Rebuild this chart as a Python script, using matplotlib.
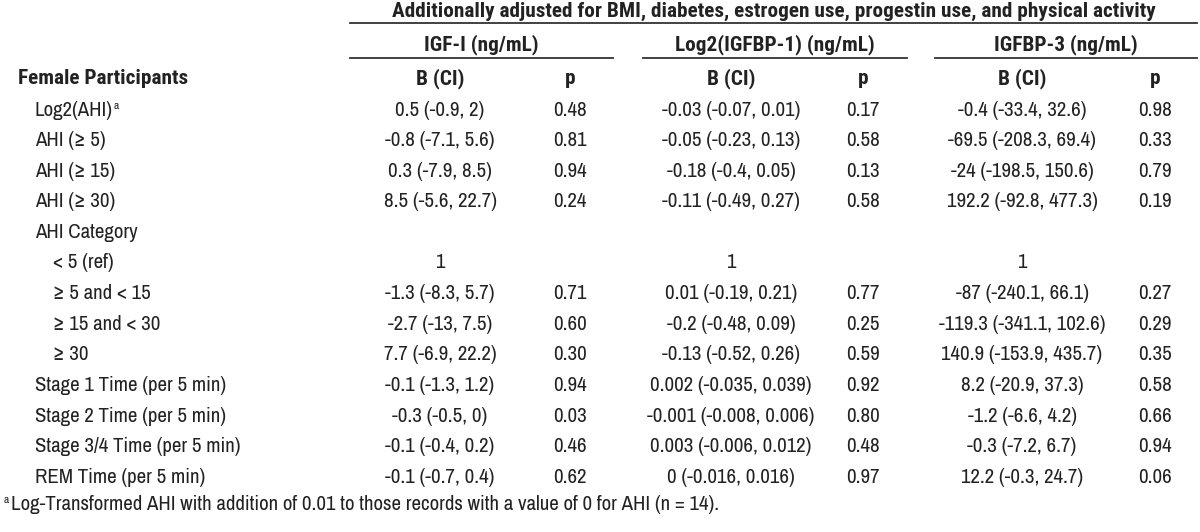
import matplotlib
matplotlib.use("Agg")
import matplotlib.pyplot as plt
from matplotlib import font_manager

# ==================================================
# Table data
# ==================================================
title = "Additionally adjusted for BMI, diabetes, estrogen use, progestin use, and physical activity"
groups = ["IGF-I (ng/mL)", "Log2(IGFBP-1) (ng/mL)", "IGFBP-3 (ng/mL)"]
section = "Female Participants"

row_labels = [
    "Log2(AHI)", "AHI (≥ 5)", "AHI (≥ 15)", "AHI (≥ 30)", "AHI Category",
    "< 5 (ref)", "≥ 5 and < 15", "≥ 15 and < 30", "≥ 30",
    "Stage 1 Time (per 5 min)", "Stage 2 Time (per 5 min)",
    "Stage 3/4 Time (per 5 min)", "REM Time (per 5 min)",
]
row_indent = [0, 0, 0, 0, 0, 1, 1, 1, 1, 0, 0, 0, 0]

igf_b = ["0.5 (-0.9, 2)", "-0.8 (-7.1, 5.6)", "0.3 (-7.9, 8.5)", "8.5 (-5.6, 22.7)", "",
         "1", "-1.3 (-8.3, 5.7)", "-2.7 (-13, 7.5)", "7.7 (-6.9, 22.2)",
         "-0.1 (-1.3, 1.2)", "-0.3 (-0.5, 0)", "-0.1 (-0.4, 0.2)", "-0.1 (-0.7, 0.4)"]
igf_p = ["0.48", "0.81", "0.94", "0.24", "", "", "0.71", "0.60", "0.30",
         "0.94", "0.03", "0.46", "0.62"]

bp1_b = ["-0.03 (-0.07, 0.01)", "-0.05 (-0.23, 0.13)", "-0.18 (-0.4, 0.05)", "-0.11 (-0.49, 0.27)", "",
         "1", "0.01 (-0.19, 0.21)", "-0.2 (-0.48, 0.09)", "-0.13 (-0.52, 0.26)",
         "0.002 (-0.035, 0.039)", "-0.001 (-0.008, 0.006)", "0.003 (-0.006, 0.012)", "0 (-0.016, 0.016)"]
bp1_p = ["0.17", "0.58", "0.13", "0.58", "", "", "0.77", "0.25", "0.59",
         "0.92", "0.80", "0.48", "0.97"]

bp3_b = ["-0.4 (-33.4, 32.6)", "-69.5 (-208.3, 69.4)", "-24 (-198.5, 150.6)", "192.2 (-92.8, 477.3)", "",
         "1", "-87 (-240.1, 66.1)", "-119.3 (-341.1, 102.6)", "140.9 (-153.9, 435.7)",
         "8.2 (-20.9, 37.3)", "-1.2 (-6.6, 4.2)", "-0.3 (-7.2, 6.7)", "12.2 (-0.3, 24.7)"]
bp3_p = ["0.98", "0.33", "0.79", "0.19", "", "", "0.27", "0.29", "0.35",
         "0.58", "0.66", "0.94", "0.06"]

footnote = "Log-Transformed AHI with addition of 0.01 to those records with a value of 0 for AHI (n = 14)."

# ==================================================
# Fonts: narrow grotesque if installed, else Liberation Sans
# ==================================================
fonts = font_manager.fontManager.ttflist
regular_names = {f.name for f in fonts}
bold_names = {f.name for f in fonts if isinstance(f.weight, int) and f.weight >= 600
              or f.weight in ("bold", "semibold", "demibold", "heavy", "black")}

# (family, size for regular text, size for bold text)
candidates = [("Liberation Sans Narrow", 15, 15), ("Arial Narrow", 15, 15),
              ("Archivo Narrow", 15, 15), ("Roboto Condensed", 14.5, 15.3),
              ("PT Sans Narrow", 15.5, 15.5), ("Fira Sans Condensed", 13.5, 13.5)]

REG, FS = "Liberation Sans", 12.5
for name, size, _ in candidates:
    if name in regular_names:
        REG, FS = name, size
        break
BOLD, FSB = "Liberation Sans", 12.5
for name, _, size in candidates:
    if name in bold_names:
        BOLD, FSB = name, size
        break
plt.rcParams["font.family"] = [REG, "DejaVu Sans"]
BFAM = [BOLD, "DejaVu Sans"]

TXT = "#222222"
b_centers = [440, 731, 1022]
p_centers = [570, 863, 1155]
group_spans = [(350, 613), (643, 907), (935, 1197)]
row_y0, row_dy = 110, 30.6

fig = plt.figure(figsize=(12, 5.32), dpi=100)
ax = fig.add_axes([0, 0, 1, 1])
ax.set_xlim(0, 1200)
ax.set_ylim(532, 0)
ax.axis("off")


def bold(x, y, s, ha="center"):
    ax.text(x, y, s, ha=ha, va="center", fontsize=FSB, fontweight="bold", family=BFAM, color=TXT)


# title + rule
bold(774, 11, title)
ax.plot([350, 1197], [23, 23], color="#333333", lw=1.3)

# group headers + rules
for g, (x0, x1) in zip(groups, group_spans):
    bold((x0 + x1) / 2, 45, g)
    ax.plot([x0, x1], [58, 58], color="#333333", lw=1.3)

# column headers
bold(18, 79, section, ha="left")
for bx, px in zip(b_centers, p_centers):
    bold(bx, 79, "B (CI)")
    bold(px, 79, "p")

# body rows
columns = [(igf_b, igf_p), (bp1_b, bp1_p), (bp3_b, bp3_p)]
for i, label in enumerate(row_labels):
    y = row_y0 + i * row_dy
    x = 35 + 18 * row_indent[i]
    t = ax.text(x, y, label, ha="left", va="center", fontsize=FS, color=TXT)
    if i == 0:
        ax.annotate("a", xycoords=t, xy=(1, 0.72), xytext=(0.5, 0), textcoords="offset points",
                    ha="left", va="center", fontsize=FS * 0.55, color=TXT)
    for (bvals, pvals), bx, px in zip(columns, b_centers, p_centers):
        ax.text(bx, y, bvals[i], ha="center", va="center", fontsize=FS, color=TXT)
        ax.text(px, y, pvals[i], ha="center", va="center", fontsize=FS, color=TXT)

# footnote
ax.text(4, 500, "a", ha="left", va="center", fontsize=FS * 0.55, color=TXT)
ax.text(11, 505, footnote, ha="left", va="center", fontsize=FS, color=TXT)

fig.savefig("out.png", dpi=100)
plt.close(fig)
